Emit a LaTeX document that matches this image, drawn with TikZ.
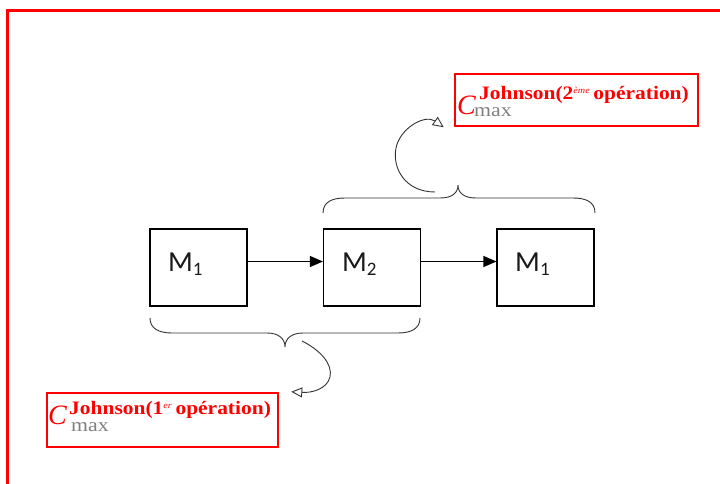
\documentclass[tikz,border=0pt]{standalone}
\usepackage{fontspec}
\setmainfont{Liberation Serif}
\newfontfamily\carl{Carlito}
\usetikzlibrary{arrows.meta}
\definecolor{frred}{RGB}{255,0,0}
\definecolor{maxgrey}{RGB}{128,128,128}
\begin{document}
\begin{tikzpicture}[x=1pt,y=-1pt,
  mbox/.style={draw, line width=1.2pt, minimum width=97pt, minimum height=77pt, inner sep=0pt},
  mlabel/.style={font=\carl\fontsize{29}{29}\selectfont, inner sep=0pt, text=black!90},
  flow/.style={-{Triangle[length=13pt,width=11pt]}, line width=1.3pt},
  bracestyle/.style={line width=0.9pt, draw=black!80},
  loopstyle/.style={-{Triangle[open,length=11pt,width=10pt]}, line width=0.9pt, draw=black!80},
  redbox/.style={draw=frred, line width=2.5pt, inner sep=0pt},
  cbig/.style={font=\fontsize{28}{28}\selectfont\itshape, text=frred, inner sep=0pt},
  john/.style={font=\fontsize{19}{19}\selectfont\bfseries, text=frred, inner sep=0pt},
  maxt/.style={font=\fontsize{19}{19}\selectfont, text=maxgrey, inner sep=0pt}]
\useasboundingbox (0,0) rectangle (720,484);
\draw[frred, line width=2.5pt] (720,10.5) -- (7.5,10.5) -- (7.5,484);

% machine boxes
\node[mbox] (b1) at (198.5,267.5) {};
\node[mbox] (b2) at (372,267.5) {};
\node[mbox] (b3) at (545.5,267.5) {};
\node[mlabel, anchor=base west] (l1) at (168,271) {M\raisebox{-4pt}{\fontsize{19}{19}\selectfont 1}};
\node[mlabel, anchor=base west] (l2) at (342,271) {M\raisebox{-4pt}{\fontsize{19}{19}\selectfont 2}};
\node[mlabel, anchor=base west] (l3) at (515,271) {M\raisebox{-4pt}{\fontsize{19}{19}\selectfont 1}};
\draw[flow] ([yshift=6pt]b1.east) -- ([yshift=6pt]b2.west);
\draw[flow] ([yshift=6pt]b2.east) -- ([yshift=6pt]b3.west);

% red label boxes
\node[redbox, minimum width=243pt, minimum height=52pt] (tb) at (576.5,100) {};
\node[cbig, anchor=base west] (tc) at (457,115) {C};
\node[john, anchor=base west] (tj) at (479,100) {\scalebox{1.13}[1]{Johnson(2\raisebox{6pt}{\fontsize{9}{9}\selectfont\mdseries\itshape ème}\,opération)}};
\node[maxt, anchor=base west] (tm) at (474,117) {\scalebox{1.15}[1]{max}};

\node[redbox, minimum width=231pt, minimum height=54pt] (bb) at (162.5,420) {};
\node[cbig, anchor=base west] (bc) at (48,424) {C};
\node[john, anchor=base west] (bj) at (69,414) {\scalebox{1.13}[1]{Johnson(1\raisebox{6pt}{\fontsize{9}{9}\selectfont\mdseries\itshape er}\,opération)}};
\node[maxt, anchor=base west] (bm) at (71,431) {\scalebox{1.15}[1]{max}};

% top brace
\coordinate (tbl) at (323,213);
\coordinate (tbt) at (458,185);
\coordinate (tbr) at (595,213);
\draw[bracestyle] (tbl) .. controls (323,202) and (332,198) .. (345,198) -- (440,198)
  .. controls (452,198) and (458,193) .. (tbt)
  .. controls (458,193) and (464,198) .. (476,198) -- (573,198)
  .. controls (586,198) and (595,202) .. (tbr);
% bottom brace
\coordinate (bbl) at (150,318);
\coordinate (bbt) at (285,347);
\coordinate (bbr) at (420,318);
\draw[bracestyle] (bbl) .. controls (150,328) and (158,333) .. (172,333) -- (267,333)
  .. controls (279,333) and (285,339) .. (bbt)
  .. controls (285,339) and (291,333) .. (303,333) -- (398,333)
  .. controls (412,333) and (420,328) .. (bbr);

% curved arrows
\coordinate (ts) at (435,192);
\coordinate (te) at ([xshift=-10pt]tb.south west);
\draw[loopstyle] (ts) .. controls (405,192) and (392,168) .. (396,148)
  .. controls (400,128) and (425,114) .. (te);
\coordinate (bs) at (302,341);
\coordinate (be) at ([xshift=12pt]bb.north east);
\draw[loopstyle] (bs) .. controls (320,350) and (333,364) .. (330,377)
  .. controls (327,389) and (312,393) .. (be);
\end{tikzpicture}
\end{document}
